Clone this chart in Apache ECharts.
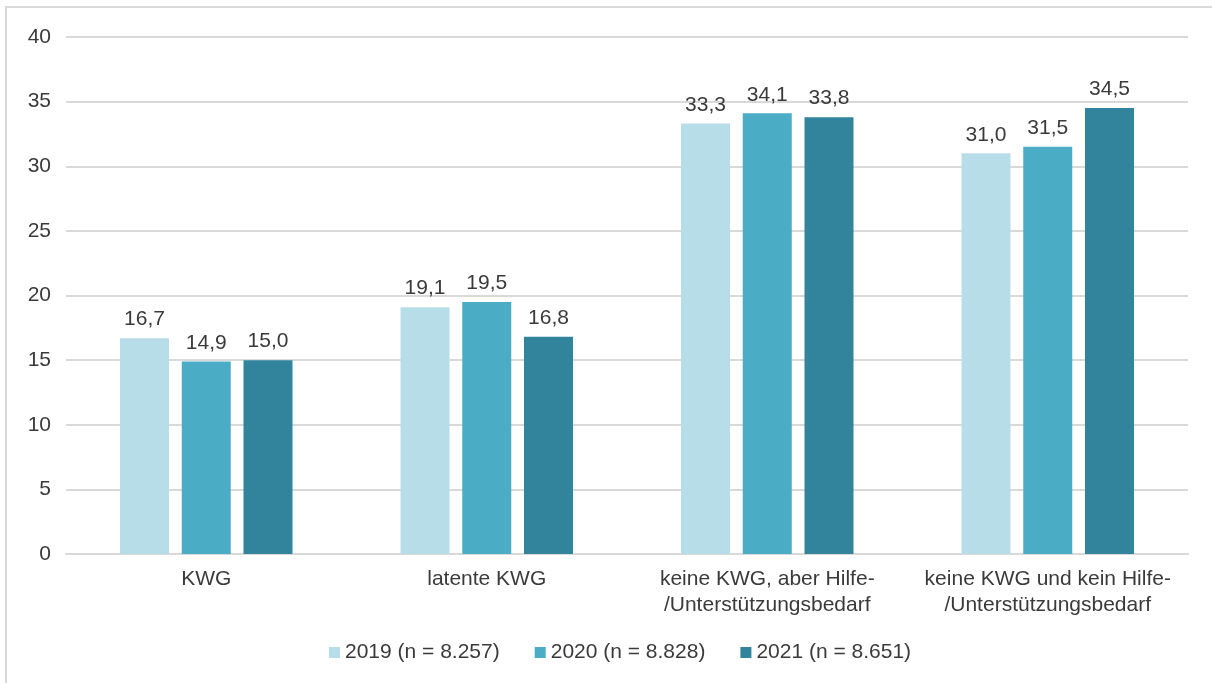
<!DOCTYPE html>
<html>
<head>
<meta charset="utf-8">
<script src="https://cdn.jsdelivr.net/npm/echarts@6/dist/echarts.min.js"></script>
<style>
  html, body { margin: 0; padding: 0; background: #fff; }
  #chart { width: 1212px; height: 683px; }
</style>
</head>
<body>
<div id="chart"></div>
<script>
const categories = [
  'KWG',
  'latente KWG',
  'keine KWG, aber Hilfe-\n/Unterstützungsbedarf',
  'keine KWG und kein Hilfe-\n/Unterstützungsbedarf'
];
const seriesNames = ['2019 (n = 8.257)', '2020 (n = 8.828)', '2021 (n = 8.651)'];
const values2019 = [16.7, 19.1, 33.3, 31.0];
const values2020 = [14.9, 19.5, 34.1, 31.5];
const values2021 = [15.0, 16.8, 33.8, 34.5];
const colors = ['#b7dee8', '#4bacc6', '#31849b'];

const textColor = '#3a3a3a';
const font = 'Liberation Sans, Arial, sans-serif';
const fontSize = 21;

const chart = echarts.init(document.getElementById('chart'), null, { renderer: 'canvas' });

// German decimal comma for the value labels
const fmt = p => p.value.toFixed(1).replace('.', ',');

const makeSeries = (name, data, color) => ({
  name,
  type: 'bar',
  data,
  barWidth: 49,
  barGap: '26%',
  itemStyle: { color },
  label: {
    show: true,
    position: 'top',
    distance: 8,
    formatter: fmt,
    color: textColor,
    fontFamily: font,
    fontSize
  }
});

chart.setOption({
  animation: false,
  color: colors,
  graphic: [{
    type: 'rect',
    shape: { x: 6, y: 7, width: 1220, height: 700 },
    style: { fill: 'none', stroke: '#d9d9d9', lineWidth: 2 },
    silent: true
  }],
  grid: { left: 66, right: 24, top: 37, bottom: 129 },
  legend: {
    bottom: 15,
    left: 324,
    itemWidth: 11,
    itemHeight: 11,
    itemGap: 35,
    icon: 'rect',
    textStyle: { color: textColor, fontFamily: font, fontSize },
    data: seriesNames
  },
  xAxis: {
    type: 'category',
    data: categories,
    axisLine: { show: true, lineStyle: { color: '#d9d9d9', width: 2 } },
    axisTick: { show: false },
    axisLabel: {
      interval: 0,
      color: textColor,
      fontFamily: font,
      fontSize,
      margin: 12,
      lineHeight: 26
    }
  },
  yAxis: {
    type: 'value',
    min: 0,
    max: 40,
    interval: 5,
    axisLine: { show: false },
    axisTick: { show: false },
    splitLine: { lineStyle: { color: '#d9d9d9', width: 2 } },
    axisLabel: {
      color: textColor,
      fontFamily: font,
      fontSize,
      margin: 15
    }
  },
  series: [
    makeSeries(seriesNames[0], values2019, colors[0]),
    makeSeries(seriesNames[1], values2020, colors[1]),
    makeSeries(seriesNames[2], values2021, colors[2])
  ]
});
</script>
</body>
</html>
